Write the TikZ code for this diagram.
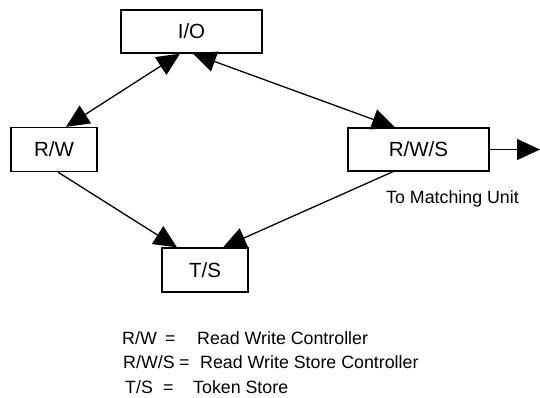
\documentclass[tikz,border=0pt]{standalone}
\usepackage{fontspec}
\setmainfont{Liberation Sans}
\usetikzlibrary{arrows.meta}
\tikzset{
  boxnode/.style={draw, line width=1.3pt, inner sep=0pt, font=\fontsize{20.5}{24}\selectfont},
  wide/.style={minimum width=141pt, minimum height=43pt},
  narrow/.style={minimum width=86pt, minimum height=44pt},
  conn/.style={line width=1.3pt, -{Triangle[length=23pt,width=21pt]}},
  biconn/.style={line width=1.3pt, {Triangle[length=23pt,width=21pt]}-{Triangle[length=23pt,width=21pt]}},
  smalltext/.style={inner sep=0pt, anchor=base west, font=\fontsize{17.8}{21}\selectfont}
}
\begin{document}
\begin{tikzpicture}[x=1pt,y=-1pt]
\useasboundingbox (0,0) rectangle (540,397);
\node[boxnode, wide]   (io)  at (191.5,31.5) {I/O};
\node[boxnode, narrow] (rw)  at (54,149.5)   {R/W};
\node[boxnode, wide]   (rws) at (418.5,149.5) {R/W/S};
\node[boxnode, narrow] (ts)  at (205,270)    {T/S};
\coordinate (mu) at (540,149.5);

\draw[biconn] ([xshift=12pt]rw.north) -- ([xshift=-11.5pt]io.south);
\draw[biconn] ([xshift=1.5pt]io.south) -- ([xshift=-23.5pt]rws.north);
\draw[conn] ([xshift=4pt]rw.south) -- ([xshift=-28pt]ts.north);
\draw[conn] ([xshift=-25.5pt]rws.south) -- ([xshift=18pt]ts.north);
\draw[conn] (rws.east) -- (mu);

\node[smalltext] (mlabel) at (386,203) {To Matching Unit};

\node[smalltext] (l1a) at (122,344) {R/W};
\node[smalltext] (l1b) at (165,344) {=};
\node[smalltext] (l1c) at (197,344) {Read Write Controller};
\node[smalltext] (l2a) at (123,368.5) {R/W/S};
\node[smalltext] (l2b) at (179,368.5) {=};
\node[smalltext] (l2c) at (200,368.5) {Read Write Store Controller};
\node[smalltext] (l3a) at (125,393) {T/S};
\node[smalltext] (l3b) at (163,393) {=};
\node[smalltext] (l3c) at (193,393) {Token Store};
\end{tikzpicture}
\end{document}
